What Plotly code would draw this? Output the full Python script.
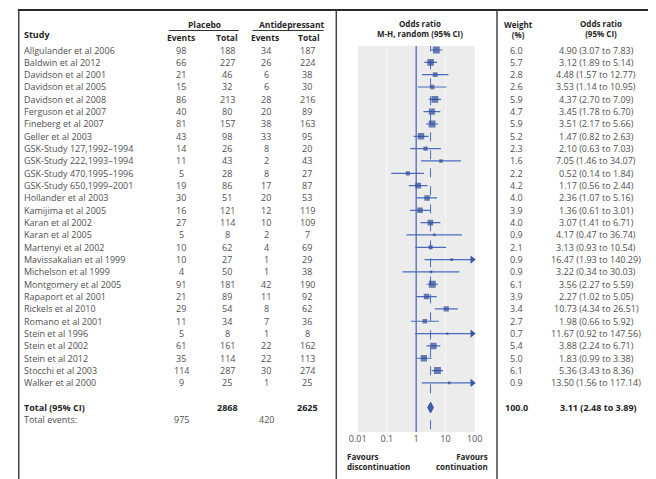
import plotly.graph_objects as go

W, H = 656, 479

studies = [
    "Allgulander et al 2006", "Baldwin et al 2012", "Davidson et al 2001",
    "Davidson et al 2005", "Davidson et al 2008", "Ferguson et al 2007",
    "Fineberg et al 2007", "Geller et al 2003", "GSK-Study 127,1992\u20131994",
    "GSK-Study 222,1993\u20131994", "GSK-Study 470,1995\u20131996",
    "GSK-Study 650,1999\u20132001", "Hollander et al 2003", "Kamijima et al 2005",
    "Karan et al 2002", "Karan et al 2005", "Martenyi et al 2002",
    "Mavissakalian et al 1999", "Michelson et al 1999", "Montgomery et al 2005",
    "Rapaport et al 2001", "Rickels et al 2010", "Romano et al 2001",
    "Stein et al 1996", "Stein et al 2002", "Stein et al 2012",
    "Stocchi et al 2003", "Walker et al 2000",
]
placebo_events = [98, 66, 21, 15, 86, 40, 81, 43, 14, 11, 5, 19, 30, 16, 27, 5, 10, 10, 4, 91, 21, 29, 11, 5, 61, 35, 114, 9]
placebo_total = [188, 227, 46, 32, 213, 80, 157, 98, 26, 43, 28, 86, 51, 121, 114, 8, 62, 27, 50, 181, 89, 54, 34, 8, 161, 114, 287, 25]
ad_events = [34, 26, 6, 6, 28, 20, 38, 33, 8, 2, 8, 17, 20, 12, 10, 2, 4, 1, 1, 42, 11, 8, 7, 1, 22, 22, 30, 1]
ad_total = [187, 224, 38, 30, 216, 89, 163, 95, 20, 43, 27, 87, 53, 119, 109, 7, 69, 29, 38, 190, 92, 62, 36, 8, 162, 113, 274, 25]
weights = [6.0, 5.7, 2.8, 2.6, 5.9, 4.7, 5.9, 5.2, 2.3, 1.6, 2.2, 4.2, 4.0, 3.9, 4.0, 0.9, 2.1, 0.9, 0.9, 6.1, 3.9, 3.4, 2.7, 0.7, 5.4, 5.0, 6.1, 0.9]
or_est = [4.90, 3.12, 4.48, 3.53, 4.37, 3.45, 3.51, 1.47, 2.10, 7.05, 0.52, 1.17, 2.36, 1.36, 3.07, 4.17, 3.13, 16.47, 3.22, 3.56, 2.27, 10.73, 1.98, 11.67, 3.88, 1.83, 5.36, 13.50]
or_lo = [3.07, 1.89, 1.57, 1.14, 2.70, 1.78, 2.17, 0.82, 0.63, 1.46, 0.14, 0.56, 1.07, 0.61, 1.41, 0.47, 0.93, 1.93, 0.34, 2.27, 1.02, 4.34, 0.66, 0.92, 2.24, 0.99, 3.43, 1.56]
or_hi = [7.83, 5.14, 12.77, 10.95, 7.09, 6.70, 5.66, 2.63, 7.03, 34.07, 1.84, 2.44, 5.16, 3.01, 6.71, 36.74, 10.54, 140.29, 30.03, 5.59, 5.05, 26.51, 5.92, 147.56, 6.71, 3.38, 8.36, 117.14]

total_placebo, total_ad = 2868, 2625
events_placebo, events_ad = 975, 420
pooled_est, pooled_lo, pooled_hi = 3.11, 2.48, 3.89
total_weight = 100.0

tick_vals = [0.01, 0.1, 1, 10, 100]
tick_text = ["0.01", "0.1", "1", "10", "100"]
AXIS_MIN, AXIS_MAX = 0.01, 100

# ---------------- layout helpers ----------------
ROW0_PX, ROW_H = 50.0, 12.33
PLOT_TOP_PX, PLOT_BOT_PX = 46, 432
PLOT_L_PX, PLOT_R_PX = 358, 478


def px(x):
    return x / W


def py(y):
    return 1 - y / H


FONT = "Open Sans"
TXT = "#505050"
DARK = "#262626"
BLUE_LINE = "#4a6bbf"
BLUE_SQ = "#2c4c98"
FS = 9

n = len(studies)
rows = list(range(n))
total_row = n + 1
events_row = n + 2.0

fig = go.Figure()

# reference line at 1 and pooled dashed line
fig.add_trace(go.Scatter(x=[1, 1], y=[-5, 40], mode="lines",
                         line=dict(color="#3f5fae", width=1.2), hoverinfo="skip"))
fig.add_trace(go.Scatter(x=[pooled_est, pooled_est], y=[-5, 40], mode="lines",
                         line=dict(color=BLUE_LINE, width=1, dash="dash"), hoverinfo="skip"))

# CI lines
cx, cy = [], []
for i in rows:
    cx += [or_lo[i], or_hi[i], None]
    cy += [i, i, None]
fig.add_trace(go.Scatter(x=cx, y=cy, mode="lines",
                         line=dict(color=BLUE_LINE, width=1.2), hoverinfo="skip"))

# arrowheads where CI exceeds axis
ax_, ay_ = [], []
for i in rows:
    if or_hi[i] > AXIS_MAX:
        ax_.append(AXIS_MAX / 10 ** 0.08)
        ay_.append(i)
fig.add_trace(go.Scatter(x=ax_, y=ay_, mode="markers", cliponaxis=False,
                         marker=dict(symbol="triangle-right", size=7, color="#3a5aa8"),
                         hoverinfo="skip"))

# squares
fig.add_trace(go.Scatter(x=or_est, y=rows, mode="markers",
                         marker=dict(symbol="square", color=BLUE_SQ,
                                     size=[2.8 * w ** 0.5 for w in weights],
                                     line=dict(width=0)),
                         hoverinfo="skip"))

# pooled diamond
dh = 0.42
fig.add_trace(go.Scatter(x=[pooled_lo, pooled_est, pooled_hi, pooled_est, pooled_lo],
                         y=[total_row, total_row - dh, total_row, total_row + dh, total_row],
                         mode="lines", fill="toself", fillcolor="#3a64b0",
                         line=dict(color="#2c4c98", width=1), hoverinfo="skip"))

y_lo = (PLOT_BOT_PX - ROW0_PX) / ROW_H
y_hi = (PLOT_TOP_PX - ROW0_PX) / ROW_H

ann = []


def t(x, y, text, anchor="center", bold=False, size=FS, color=TXT, yref="y", align="center"):
    ann.append(dict(x=px(x), y=y, xref="paper", yref=yref, text=("<b>%s</b>" % text) if bold else text,
                    showarrow=False, xanchor=anchor, yanchor="middle", align=align,
                    font=dict(family=FONT, size=size, color=color)))


# headers
HS = 8.5
t(13, py(35), "Study", "left", True, 9, DARK, "paper")
t(201, py(24), "Placebo", "center", True, HS, DARK, "paper")
t(291, py(24), "Antidepressant", "center", True, HS, DARK, "paper")
for xx, lab in [(177, "Events"), (224, "Total"), (263, "Events"), (308, "Total")]:
    t(xx, py(37.5), lab, "center", True, HS, DARK, "paper")
t(422, py(29), "Odds ratio<br>M-H, random (95% CI)", "center", True, 8, DARK, "paper")
t(523, py(30), "Weight<br>(%)", "center", True, 8, DARK, "paper")
t(608, py(29), "Odds ratio<br>(95% CI)", "center", True, 8, DARK, "paper")

# rows
for i in rows:
    t(13, i, studies[i], "left")
    t(177, i, str(placebo_events[i]))
    t(224, i, str(placebo_total[i]))
    t(264, i, str(ad_events[i]))
    t(306, i, str(ad_total[i]))
    t(521, i, "%.1f" % weights[i])
    t(603, i, "%.2f (%.2f to %.2f)" % (or_est[i], or_lo[i], or_hi[i]))

# totals
t(13, total_row, "Total (95% CI)", "left", True, FS, DARK)
t(224, total_row, str(total_placebo), "center", True, FS, DARK)
t(306, total_row, str(total_ad), "center", True, FS, DARK)
t(521, total_row, "%.1f" % total_weight, "center", True, FS, DARK)
t(605, total_row, "%.2f (%.2f to %.2f)" % (pooled_est, pooled_lo, pooled_hi), "center", True, FS, DARK)
t(13, events_row, "Total events:", "left")
t(177, events_row, str(events_placebo))
t(264, events_row, str(events_ad))

# favours labels
t(345, py(461), "Favours<br>discontinuation", "left", True, 8, DARK, "paper", "left")
t(494, py(461), "Favours<br>continuation", "right", True, 8, DARK, "paper", "right")

shapes = [
    dict(type="line", xref="paper", yref="paper", x0=px(9), x1=px(656), y0=py(10), y1=py(10),
         line=dict(color="#2a2a2a", width=2)),
    dict(type="line", xref="paper", yref="paper", x0=px(10), x1=px(10), y0=py(10), y1=py(479),
         line=dict(color="#444", width=1.5)),
    dict(type="line", xref="paper", yref="paper", x0=px(336), x1=px(336), y0=py(10), y1=py(479),
         line=dict(color="#444", width=1.5)),
    dict(type="line", xref="paper", yref="paper", x0=px(501), x1=px(501), y0=py(10), y1=py(479),
         line=dict(color="#444", width=1.5)),
    dict(type="line", xref="paper", yref="paper", x0=px(164), x1=px(236), y0=py(30.5), y1=py(30.5),
         line=dict(color="#333", width=1)),
    dict(type="line", xref="paper", yref="paper", x0=px(250), x1=px(323), y0=py(30.5), y1=py(30.5),
         line=dict(color="#333", width=1)),
]

fig.update_layout(
    width=W, height=H,
    margin=dict(l=0, r=0, t=0, b=0),
    paper_bgcolor="white",
    plot_bgcolor="#ececec",
    showlegend=False,
    annotations=ann,
    shapes=shapes,
    xaxis=dict(type="log", domain=[px(PLOT_L_PX), px(PLOT_R_PX)],
               range=[-2, 2], tickvals=tick_vals, ticktext=tick_text,
               showgrid=True, gridcolor="#f6f6f6", gridwidth=1, zeroline=False,
               ticks="", showline=False,
               tickfont=dict(family=FONT, size=9, color=TXT)),
    yaxis=dict(domain=[py(PLOT_BOT_PX), py(PLOT_TOP_PX)], range=[y_lo, y_hi],
               showgrid=False, zeroline=False, showticklabels=False, ticks="", showline=False),
)

fig.write_html("out.html", config={"displayModeBar": False},
               post_script="document.body.style.margin='0';document.body.style.overflow='hidden';")
